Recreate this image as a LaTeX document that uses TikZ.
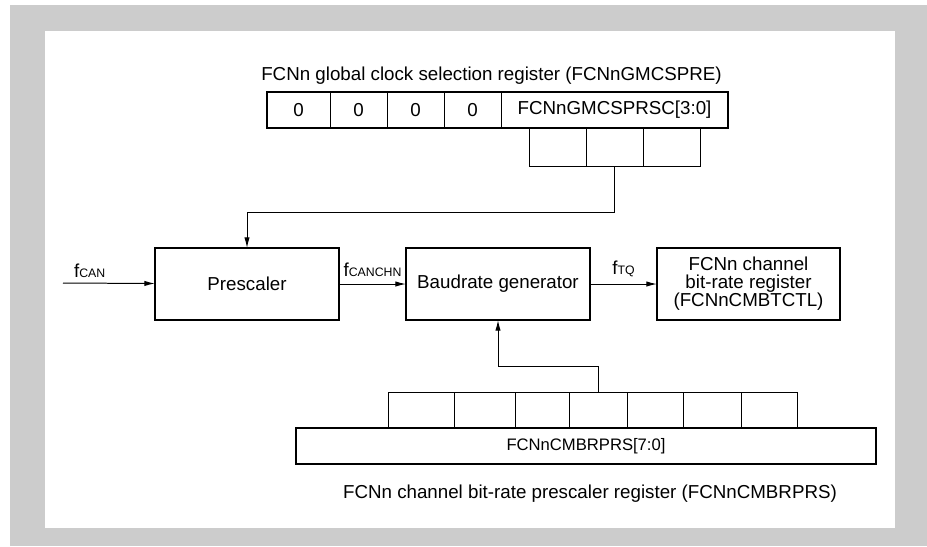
\documentclass[tikz,border=0pt]{standalone}
\usepackage{fontspec}
\setmainfont{Liberation Sans}
\usetikzlibrary{positioning}
\usetikzlibrary{arrows.meta}

\newcommand{\fsub}[1]{f{\fontsize{10.5}{10.5}\selectfont #1}}

\begin{document}
\begin{tikzpicture}[
    x=0.03cm, y=-0.03cm,
    every node/.style={inner sep=0pt, outer sep=0pt,
                       font=\fontsize{16}{15.4}\selectfont},
    block/.style={rectangle, draw, line width=1.7pt, align=center,
                  minimum width=5.52cm, minimum height=2.16cm},
    cell/.style={rectangle, draw, line width=0.8pt, minimum height=1.08cm},
    bitbox/.style={rectangle, draw, line width=0.8pt},
    regframe/.style={line width=1.7pt},
    wire/.style={line width=0.85pt},
  ]
\tikzset{>={Latex[length=9pt, width=4.5pt]}}
  % frame
  \fill[gray!40] (10,5) rectangle (927,546);
  \fill[white] (45,31) rectangle (895,528);
  \useasboundingbox (0,0) rectangle (927,546);

  % global clock selection register
  \node (gtitle) at (491.5,76) {FCNn global clock selection register (FCNnGMCSPRE)};
  \node[cell, minimum width=1.89cm] (g3) at (298.5,110) {0};
  \node[cell, minimum width=1.71cm, right=0pt of g3] (g2) {0};
  \node[cell, minimum width=1.71cm, right=0pt of g2] (g1) {0};
  \node[cell, minimum width=1.71cm, right=0pt of g1] (g0) {0};
  \node[cell, minimum width=6.81cm, right=0pt of g0] (gsc) {FCNnGMCSPRSC[3:0]};
  \draw[regframe] (g3.north west) rectangle (gsc.south east);
  \node[bitbox, minimum width=1.71cm, minimum height=1.14cm] (gb2) at (557.5,147) {};
  \node[bitbox, minimum width=1.71cm, minimum height=1.14cm] (gb1) at (614.5,147) {};
  \node[bitbox, minimum width=1.71cm, minimum height=1.14cm] (gb0) at (671.5,147) {};

  % clock path
  \coordinate (fin) at (63,283);
  \node[block] (pre) at (247,284) {Prescaler};
  \node[block] (baud) at (498,284) {Baudrate generator};
  \node[block, minimum width=5.49cm] (btctl) at (748.5,284)
       {FCNn channel\\bit-rate register\\(FCNnCMBTCTL)};

  \draw[wire, ->] (fin) -- node[pos=0.29, above=5pt] (lcan) {\fsub{CAN}} (pre);
  \draw[wire, ->] (pre) -- node[above=6pt] (lchn) {\fsub{CANCHN}} (baud);
  \draw[wire, ->] (baud) -- node[above=6pt] (ltq) {\fsub{TQ}} (btctl);
  \draw[wire, ->] (gb1.south) -- ++(0,46) -| (pre.north);

  % channel bit-rate prescaler register
  \node[bitbox, minimum width=1.98cm, minimum height=1.08cm] (pb7) at (421,410) {};
  \node[bitbox, minimum width=1.83cm, minimum height=1.08cm] (pb6) at (484.5,410) {};
  \node[bitbox, minimum width=1.62cm, minimum height=1.08cm] (pb5) at (542,410) {};
  \node[bitbox, minimum width=1.74cm, minimum height=1.08cm] (pb4) at (598,410) {};
  \node[bitbox, minimum width=1.68cm, minimum height=1.08cm] (pb3) at (655,410) {};
  \node[bitbox, minimum width=1.74cm, minimum height=1.08cm] (pb2) at (712,410) {};
  \node[bitbox, minimum width=1.68cm, minimum height=1.08cm] (pb1) at (769,410) {};
  \node[rectangle, draw, line width=1.7pt, minimum width=17.4cm, minimum height=1.08cm,
        font=\fontsize{14.2}{15}\selectfont] (brprs) at (586,446) {FCNnCMBRPRS[7:0]};
  \node (btitle) at (590,494) {FCNn channel bit-rate prescaler register (FCNnCMBRPRS)};
  \draw[wire, ->] (pb4.north) -- ++(0,-26) -| (baud.south);
\end{tikzpicture}
\end{document}
